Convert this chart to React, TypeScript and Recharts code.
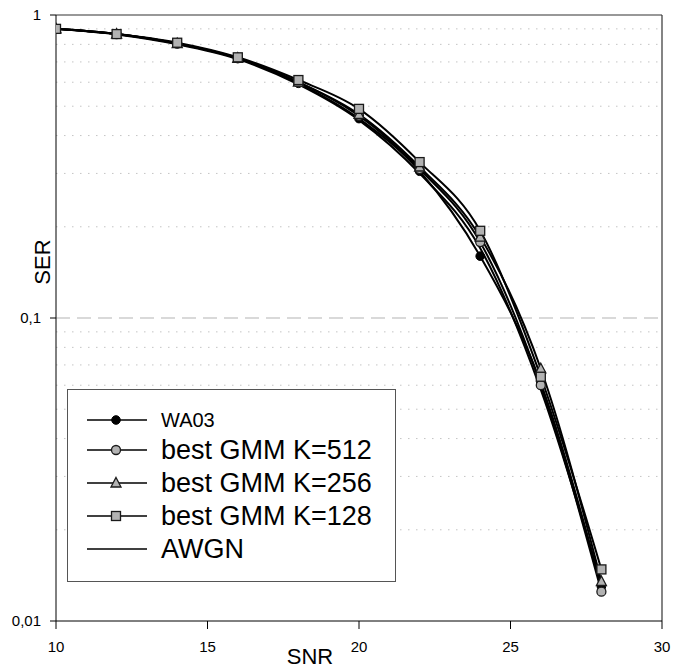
import { LineChart, Line, XAxis, YAxis, ReferenceLine, Legend } from 'recharts';

const FONT = '"Liberation Sans", Arial, sans-serif';

// SNR points (x) and SER per system
const snr = [10, 12, 14, 16, 18, 20, 22, 24, 26, 28];
const wa03 = [0.9, 0.865, 0.805, 0.72, 0.595, 0.455, 0.305, 0.16, 0.061, 0.013];
const gmm512 = [0.9, 0.865, 0.805, 0.72, 0.6, 0.465, 0.31, 0.178, 0.06, 0.0125];
const gmm256 = [0.9, 0.865, 0.805, 0.72, 0.6, 0.47, 0.315, 0.185, 0.068, 0.0135];
const gmm128 = [0.9, 0.865, 0.81, 0.725, 0.61, 0.49, 0.327, 0.194, 0.064, 0.0148];
const awgn = [0.9, 0.862, 0.8, 0.715, 0.59, 0.45, 0.3, 0.17, 0.058, 0.0132];

const xTicks = [10, 15, 20, 25, 30];
const yTicks = [0.01, 0.1, 1];
const minorGrid = [0.02, 0.03, 0.04, 0.05, 0.06, 0.07, 0.08, 0.09, 0.2, 0.3, 0.4, 0.5, 0.6, 0.7, 0.8, 0.9];

const data = snr.map((x, i) => ({
  snr: x,
  wa03: wa03[i],
  gmm512: gmm512[i],
  gmm256: gmm256[i],
  gmm128: gmm128[i],
  awgn: awgn[i],
}));

const GRAY = '#b2b2b2';
const EDGE = '#1a1a1a';

function Triangle({ cx, cy }: { cx?: number; cy?: number }) {
  if (cx == null || cy == null) return null;
  return (
    <polygon
      points={`${cx},${cy - 5.5} ${cx + 5},${cy + 4} ${cx - 5},${cy + 4}`}
      fill={GRAY}
      stroke={EDGE}
      strokeWidth={1.3}
    />
  );
}

function Square({ cx, cy }: { cx?: number; cy?: number }) {
  if (cx == null || cy == null) return null;
  return <rect x={cx - 4.5} y={cy - 4.5} width={9} height={9} fill={GRAY} stroke={EDGE} strokeWidth={1.3} />;
}

function BlackDot({ cx, cy }: { cx?: number; cy?: number }) {
  if (cx == null || cy == null) return null;
  return <circle cx={cx} cy={cy} r={4.3} fill="#000" stroke="#000" />;
}

function GrayDot({ cx, cy }: { cx?: number; cy?: number }) {
  if (cx == null || cy == null) return null;
  return <circle cx={cx} cy={cy} r={4.5} fill={GRAY} stroke={EDGE} strokeWidth={1.3} />;
}

const legendItems = [
  { name: 'WA03', marker: 'dot', size: 20, top: 18 },
  { name: 'best GMM K=512', marker: 'circle', size: 27, top: 48 },
  { name: 'best GMM K=256', marker: 'triangle', size: 27, top: 81 },
  { name: 'best GMM K=128', marker: 'square', size: 27, top: 114 },
  { name: 'AWGN', marker: 'none', size: 27, top: 147 },
];

function LegendMarker({ kind }: { kind: string }) {
  const cx = 30;
  const cy = 12;
  return (
    <svg width={62} height={24} style={{ position: 'absolute', left: 18, top: 0 }}>
      <line x1={1} y1={cy} x2={61} y2={cy} stroke="#000" strokeWidth={1.6} />
      {kind === 'dot' && <BlackDot cx={cx} cy={cy} />}
      {kind === 'circle' && <GrayDot cx={cx} cy={cy} />}
      {kind === 'triangle' && <Triangle cx={cx} cy={cy} />}
      {kind === 'square' && <Square cx={cx} cy={cy} />}
    </svg>
  );
}

function LegendBox() {
  return (
    <div
      style={{
        width: 329,
        height: 193,
        boxSizing: 'border-box',
        border: '1.5px solid #555',
        background: '#fff',
        position: 'relative',
        fontFamily: FONT,
        color: '#000',
      }}
    >
      {legendItems.map((it) => (
        <div key={it.name} style={{ position: 'absolute', left: 0, top: it.top, height: 24, width: 320 }}>
          <LegendMarker kind={it.marker} />
          <span
            style={{
              position: 'absolute',
              left: 93,
              top: 12,
              transform: 'translateY(-50%)',
              fontSize: it.size,
              lineHeight: 1,
              whiteSpace: 'nowrap',
            }}
          >
            {it.name}
          </span>
        </div>
      ))}
    </div>
  );
}

const fmtY = (v: number) => String(v).replace('.', ',');

export default function App() {
  return (
    <div style={{ position: 'absolute', left: 0, top: 0, background: '#fff' }}>
      <LineChart width={673} height={669} data={data} margin={{ top: 15, right: 11, left: 0, bottom: 0 }}>
        {minorGrid.map((v) => (
          <ReferenceLine key={v} y={v} stroke="#c4c4c4" strokeDasharray="1.5 6.5" strokeWidth={1} />
        ))}
        <ReferenceLine y={0.1} stroke="#b4b4b4" strokeDasharray="14 7" strokeWidth={1.2} />
        <ReferenceLine y={1} stroke="#333" strokeWidth={1.2} />
        <ReferenceLine x={30} stroke="#333" strokeWidth={1.2} />
        <XAxis
          dataKey="snr"
          type="number"
          domain={[10, 30]}
          ticks={xTicks}
          allowDataOverflow
          height={48}
          tickSize={8}
          tickMargin={12}
          stroke="#000"
          tick={{ fontSize: 15, fill: '#000', fontFamily: FONT }}
          label={{
            content: () => (
              <text x={310} y={664} textAnchor="middle" fontSize={22} fontFamily={FONT} fill="#000">
                SNR
              </text>
            ),
          }}
        />
        <YAxis
          scale="log"
          domain={[0.01, 1]}
          ticks={yTicks}
          allowDataOverflow
          width={56}
          tickSize={6}
          tickMargin={9}
          stroke="#000"
          tickFormatter={fmtY}
          tick={{ fontSize: 15, fill: '#000', fontFamily: FONT }}
          label={{
            content: () => (
              <text
                x={50}
                y={262}
                transform="rotate(-90 50 262)"
                textAnchor="middle"
                fontSize={22}
                fontFamily={FONT}
                fill="#000"
              >
                SER
              </text>
            ),
          }}
        />
        <Legend
          layout="vertical"
          align="center"
          verticalAlign="middle"
          content={() => <LegendBox />}
          wrapperStyle={{ left: 67, top: 389, width: 329, height: 193 }}
        />
        <Line type="monotone" dataKey="awgn" stroke="#000" strokeWidth={2} dot={false} isAnimationActive={false} />
        <Line type="monotone" dataKey="wa03" stroke="#000" strokeWidth={2} dot={<BlackDot />} isAnimationActive={false} />
        <Line type="monotone" dataKey="gmm512" stroke="#000" strokeWidth={2} dot={<GrayDot />} isAnimationActive={false} />
        <Line type="monotone" dataKey="gmm256" stroke="#000" strokeWidth={2} dot={<Triangle />} isAnimationActive={false} />
        <Line type="monotone" dataKey="gmm128" stroke="#000" strokeWidth={2} dot={<Square />} isAnimationActive={false} />
      </LineChart>
    </div>
  );
}
